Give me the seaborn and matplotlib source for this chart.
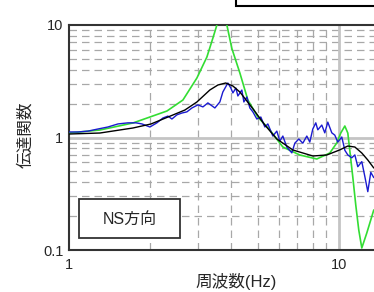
import numpy as np
import pandas as pd
import matplotlib
matplotlib.use("Agg")
import matplotlib.pyplot as plt
from matplotlib.patches import Rectangle
import seaborn as sns

# observed transfer function (blue)
obs_freq = [1.000, 1.080, 1.176, 1.280, 1.394, 1.519, 1.654, 1.771, 1.864, 1.995,
            2.118, 2.229, 2.326, 2.407, 2.512, 2.621, 2.735, 2.855, 3.005, 3.136,
            3.272, 3.473, 3.624, 3.718, 3.880, 3.981, 4.050, 4.155, 4.226, 4.372,
            4.448, 4.563, 4.681, 4.803, 4.969, 5.141, 5.320, 5.458, 5.696, 5.893,
            6.046, 6.204, 6.419, 6.699, 6.871, 7.111, 7.356, 7.612, 7.808, 8.011,
            8.218, 8.360, 8.650, 8.874, 9.105, 9.421, 9.665, 9.915, 10.26, 10.53,
            10.80, 11.17, 11.47, 11.76, 12.17, 12.49, 12.81, 13.14, 13.48]
obs_val = [1.12, 1.12, 1.14, 1.19, 1.24, 1.32, 1.35, 1.35, 1.32, 1.24,
           1.35, 1.49, 1.55, 1.46, 1.59, 1.65, 1.69, 1.83, 1.95, 1.87,
           2.03, 1.83, 2.07, 2.54, 3.05, 2.75, 2.49, 2.75, 2.34, 2.64,
           2.07, 2.29, 1.83, 1.69, 1.46, 1.52, 1.24, 1.32, 1.03, 1.14,
           0.93, 1.03, 0.82, 0.73, 0.89, 0.97, 0.89, 1.03, 0.91, 1.19,
           1.35, 1.17, 1.29, 1.10, 1.37, 1.10, 1.05, 0.91, 1.01, 0.77,
           0.70, 0.66, 0.70, 0.55, 0.61, 0.45, 0.33, 0.49, 0.44]

# smoothed / fitted transfer function (black)
fit_freq = [1.0, 1.302, 1.726, 2.012, 2.427, 2.689, 2.979, 3.327, 3.564, 3.810,
            4.050, 4.299, 4.844, 5.320, 5.893, 6.763, 8.011, 9.027, 10.06, 10.80,
            11.47, 12.17, 12.81, 13.48]
fit_val = [1.074, 1.096, 1.215, 1.318, 1.585, 1.755, 2.068, 2.644, 2.929, 3.051,
           2.870, 2.537, 1.755, 1.292, 0.970, 0.774, 0.685, 0.699, 0.774, 0.840,
           0.823, 0.728, 0.631, 0.536]

# theoretical transfer function (green)
th_freq = [1.0, 1.302, 1.726, 1.995, 2.307, 2.644, 2.979, 3.244, 3.415, 3.533,
           3.69, 3.847, 4.015, 4.299, 4.603, 5.012, 5.553, 6.204, 7.171, 8.289,
           9.261, 9.83, 10.17, 10.53, 10.80, 10.98, 11.27, 11.56, 11.86, 12.17,
           12.70, 13.48]
th_val = [1.096, 1.166, 1.346, 1.521, 1.72, 2.154, 3.38, 5.19, 7.66, 10.0,
          20.0, 10.0, 6.18, 3.745, 2.154, 1.521, 1.166, 0.823, 0.699, 0.644,
          0.728, 0.894, 1.096, 1.265, 1.096, 0.774, 0.4456, 0.251, 0.1505, 0.1042,
          0.1416, 0.2268]

sns.set_style("white")
plt.rcParams['font.family'] = ['Liberation Sans', 'Noto Sans CJK JP', 'DejaVu Sans']

W, H = 374, 292
fig = plt.figure(figsize=(W / 100, H / 100), dpi=100)
# axes runs past the right edge of the picture (cropped original)
ax = fig.add_axes([69 / W, (H - 250) / H, 351 / W, 225 / H])

ax.set_xscale("log")
ax.set_yscale("log")
ax.set_xlim(1, 20)
ax.set_ylim(0.1, 10)

# grid: dashed minor, solid major at 1 and 10
ax.grid(which="minor", color="#a8a8a8", linestyle=(0, (6, 4)), linewidth=0.9)
ax.axhline(1, color="#c4c4c4", linewidth=2, zorder=1)
ax.axvline(10, color="#c4c4c4", linewidth=2, zorder=1)

sns.lineplot(x=th_freq, y=th_val, ax=ax, color="#33dd33", linewidth=1.2,
             estimator=None, sort=False, zorder=3)
sns.lineplot(x=obs_freq, y=obs_val, ax=ax, color="#1a1ad0", linewidth=1.0,
             estimator=None, sort=False, zorder=4)
sns.lineplot(x=fit_freq, y=fit_val, ax=ax, color="black", linewidth=1.0,
             estimator=None, sort=False, zorder=5)

ax.set_xticks([1, 10])
ax.set_xticklabels(["1", "10"])
ax.set_yticks([0.1, 1, 10])
ax.set_yticklabels(["0.1", "1", "10"])
ax.tick_params(axis="both", which="both", length=0, labelsize=10.5, pad=4)
ax.tick_params(axis="x", pad=6)

for side in ["left", "top", "bottom"]:
    ax.spines[side].set_color("#333333")
    ax.spines[side].set_linewidth(1.5)
ax.spines["right"].set_visible(False)

# direction label box
fig.patches.append(Rectangle((79 / W, 1 - 238 / H), 101 / W, 39 / H, transform=fig.transFigure,
                             facecolor="white", edgecolor="#333333", linewidth=1.3, zorder=6))
fig.text(130 / W, 1 - 219 / H, "NS方向", ha="center", va="center", fontsize=11.5, zorder=7)

fig.text(236 / W, 1 - 282 / H, "周波数(Hz)", ha="center", va="center", fontsize=12)
fig.text(25 / W, 1 - 135 / H, "伝達関数", ha="center", va="center",
         rotation=90, fontsize=12)

# legend box cut off at the top of the original
fig.patches.append(Rectangle((236 / W, (H - 6) / H), 0.6, 0.2, transform=fig.transFigure,
                             facecolor="white", edgecolor="black", linewidth=1.5))

fig.savefig("out.png", dpi=100)
